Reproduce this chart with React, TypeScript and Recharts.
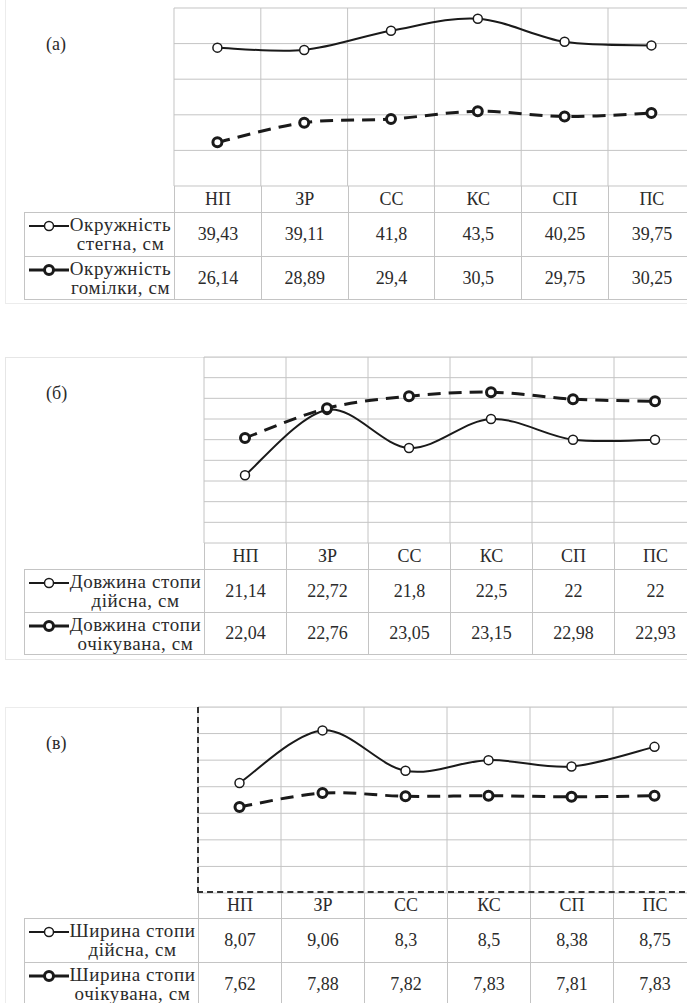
import { LineChart, Line, XAxis, YAxis, CartesianGrid } from "recharts";

const categories = ["НП", "ЗР", "СС", "КС", "СП", "ПС"];

// (а) окружності
const thighGirth = [39.43, 39.11, 41.8, 43.5, 40.25, 39.75];
const shinGirth = [26.14, 28.89, 29.4, 30.5, 29.75, 30.25];
const girthTicks = [20, 25, 30, 35, 40];

// (б) довжина стопи
const footLengthActual = [21.14, 22.72, 21.8, 22.5, 22, 22];
const footLengthExpected = [22.04, 22.76, 23.05, 23.15, 22.98, 22.93];
const lengthTicks = [19.5, 20, 20.5, 21, 21.5, 22, 22.5, 23, 23.5, 24];

// (в) ширина стопи
const footWidthActual = [8.07, 9.06, 8.3, 8.5, 8.38, 8.75];
const footWidthExpected = [7.62, 7.88, 7.82, 7.83, 7.81, 7.83];
const widthTicks = [6, 6.5, 7, 7.5, 8, 8.5, 9, 9.5];

const GRID = "#c4c4c4";
const INK = "#1a1a1a";
const TEXT = "#2b2b2b";
const PAD = 4;
const FONT = '"Liberation Serif", serif';

// Excel-like smoothed line (Catmull-Rom as Bezier)
function excelCurve(context: any) {
  let pts: number[][] = [];
  return {
    areaStart() {},
    areaEnd() {},
    lineStart() {
      pts = [];
    },
    point(x: number, y: number) {
      pts.push([+x, +y]);
    },
    lineEnd() {
      if (!pts.length) return;
      context.moveTo(pts[0][0], pts[0][1]);
      for (let i = 0; i < pts.length - 1; i++) {
        const p0 = pts[i - 1] || pts[i];
        const p1 = pts[i];
        const p2 = pts[i + 1];
        const p3 = pts[i + 2] || p2;
        const t = 1 / 6;
        context.bezierCurveTo(
          p1[0] + (p2[0] - p0[0]) * t,
          p1[1] + (p2[1] - p0[1]) * t,
          p2[0] - (p3[0] - p1[0]) * t,
          p2[1] - (p3[1] - p1[1]) * t,
          p2[0],
          p2[1]
        );
      }
    },
  };
}

const fmt = (v: number) => String(v).replace(".", ",");

function LegendKey({ bold }: { bold?: boolean }) {
  return (
    <svg width={40} height={12} style={{ flex: "none", marginTop: 5 }}>
      <line x1={0} y1={6} x2={40} y2={6} stroke={INK} strokeWidth={bold ? 3 : 2} />
      <circle cx={20} cy={6} r={4.5} fill="#fff" stroke={INK} strokeWidth={bold ? 3 : 1.5} />
    </svg>
  );
}

interface PanelProps {
  label: string;
  plotTop: number;
  plotLeft: number;
  plotH: number;
  colW: number;
  tableLeft: number;
  rowH: number;
  catH: number;
  domain: [number, number];
  ticks: number[];
  s1: number[];
  s2: number[];
  name1: [string, string];
  name2: [string, string];
  framed?: boolean;
}

function Panel(p: PanelProps) {
  const data = categories.map((c, i) => ({ cat: c, a: p.s1[i], b: p.s2[i] }));
  const chartW = p.plotLeft + 6 * p.colW;
  const catTop = p.plotTop + p.plotH;
  const rowsTop = catTop + p.catH;
  const legendW = p.plotLeft - p.tableLeft;

  const rows = [
    { name: p.name1, values: p.s1, bold: false },
    { name: p.name2, values: p.s2, bold: true },
  ];

  return (
    <>
      <div style={{ position: "absolute", left: 0, top: p.plotTop - PAD }}>
        <LineChart
          width={chartW}
          height={p.plotH + PAD * 2}
          data={data}
          margin={{ top: PAD, right: 0, bottom: PAD, left: p.plotLeft }}
        >
          <CartesianGrid
            stroke={GRID}
            strokeWidth={1}
            verticalCoordinatesGenerator={({ offset }: any) =>
              Array.from({ length: 7 }, (_, i) => offset.left + (i * offset.width) / 6)
            }
          />
          <XAxis dataKey="cat" hide padding={{ left: p.colW / 2, right: p.colW / 2 }} />
          <YAxis hide type="number" domain={p.domain} ticks={p.ticks} interval={0} />
          <Line
            dataKey="a"
            type={excelCurve as any}
            stroke={INK}
            strokeWidth={2}
            dot={{ r: 4.5, fill: "#fff", stroke: INK, strokeWidth: 1.5 }}
            isAnimationActive={false}
          />
          <Line
            dataKey="b"
            type={excelCurve as any}
            stroke={INK}
            strokeWidth={3}
            strokeDasharray="13 8"
            dot={{ r: 4.5, fill: "#fff", stroke: INK, strokeWidth: 3, strokeDasharray: "none" }}
            isAnimationActive={false}
          />
        </LineChart>
      </div>

      {p.framed && (
        <div
          style={{
            position: "absolute",
            left: p.plotLeft,
            top: p.plotTop,
            width: 6 * p.colW,
            height: p.plotH,
            borderLeft: "2px dashed #333",
            borderBottom: "2px dashed #333",
            boxSizing: "border-box",
            marginLeft: -1,
          }}
        />
      )}

      <div
        style={{
          position: "absolute",
          left: 46,
          top: p.plotTop + 26,
          fontSize: 18,
          fontFamily: FONT,
          color: TEXT,
        }}
      >
        {p.label}
      </div>

      {/* category row */}
      <div style={{ position: "absolute", left: p.plotLeft, top: catTop, display: "flex" }}>
        {categories.map((c) => (
          <div
            key={c}
            style={{
              width: p.colW,
              height: p.catH,
              borderLeft: `1px solid ${GRID}`,
              boxSizing: "border-box",
              display: "flex",
              alignItems: "center",
              justifyContent: "center",
              fontSize: 18,
              fontFamily: FONT,
            }}
          >
            {c}
          </div>
        ))}
      </div>

      {/* data table */}
      {rows.map((r, ri) => (
        <div
          key={ri}
          style={{
            position: "absolute",
            left: p.tableLeft,
            top: rowsTop + ri * p.rowH,
            display: "flex",
            height: p.rowH,
            borderTop: `1px solid ${GRID}`,
            borderBottom: ri === 1 ? `1px solid ${GRID}` : undefined,
            boxSizing: "border-box",
          }}
        >
          <div
            style={{
              width: legendW,
              borderLeft: `1px solid ${GRID}`,
              boxSizing: "border-box",
              display: "flex",
              alignItems: "flex-start",
              paddingLeft: 4,
              paddingTop: 2,
              fontSize: 19,
              letterSpacing: 0.6,
              lineHeight: "19px",
              fontFamily: FONT,
            }}
          >
            <LegendKey bold={r.bold} />
            <div style={{ flex: 1, textAlign: "center", whiteSpace: "nowrap", paddingRight: 2 }}>
              {r.name[0]}
              <br />
              {r.name[1]}
            </div>
          </div>
          {r.values.map((v, i) => (
            <div
              key={i}
              style={{
                width: p.colW,
                borderLeft: `1px solid ${GRID}`,
                boxSizing: "border-box",
                display: "flex",
                alignItems: "center",
                justifyContent: "center",
                fontSize: 18,
                fontFamily: FONT,
              }}
            >
              {fmt(v)}
            </div>
          ))}
        </div>
      ))}
    </>
  );
}

export default function App() {
  return (
    <div
      style={{
        position: "absolute",
        left: 0,
        top: 0,
        width: 687,
        height: 1003,
        overflow: "hidden",
        background: "#fff",
        fontFamily: FONT,
        color: TEXT,
      }}
    >
      <div style={{ position: "absolute", left: 5, top: 0, width: 700, height: 303, borderLeft: "1px solid #ececec", borderBottom: "1px solid #ececec" }} />
      <div style={{ position: "absolute", left: 5, top: 357, width: 700, height: 301, border: "1px solid #e6e6e6" }} />
      <div style={{ position: "absolute", left: 5, top: 707, width: 700, height: 310, border: "1px solid #ececec" }} />

      <Panel
        label="(а)"
        plotTop={8}
        plotLeft={174}
        plotH={178}
        colW={86.8}
        tableLeft={24}
        rowH={44}
        catH={26}
        domain={[20, 45]}
        ticks={girthTicks}
        s1={thighGirth}
        s2={shinGirth}
        name1={["Окружність", "стегна, см"]}
        name2={["Окружність", "гомілки, см"]}
      />
      <Panel
        label="(б)"
        plotTop={357}
        plotLeft={204}
        plotH={186}
        colW={82}
        tableLeft={24}
        rowH={43}
        catH={26}
        domain={[19.5, 24]}
        ticks={lengthTicks}
        s1={footLengthActual}
        s2={footLengthExpected}
        name1={["Довжина стопи", "дійсна, см"]}
        name2={["Довжина стопи", "очікувана, см"]}
      />
      <Panel
        label="(в)"
        plotTop={707}
        plotLeft={198}
        plotH={186}
        colW={83}
        tableLeft={24}
        rowH={44}
        catH={25}
        domain={[6, 9.5]}
        ticks={widthTicks}
        s1={footWidthActual}
        s2={footWidthExpected}
        name1={["Ширина стопи", "дійсна, см"]}
        name2={["Ширина стопи", "очікувана, см"]}
        framed
      />
    </div>
  );
}
